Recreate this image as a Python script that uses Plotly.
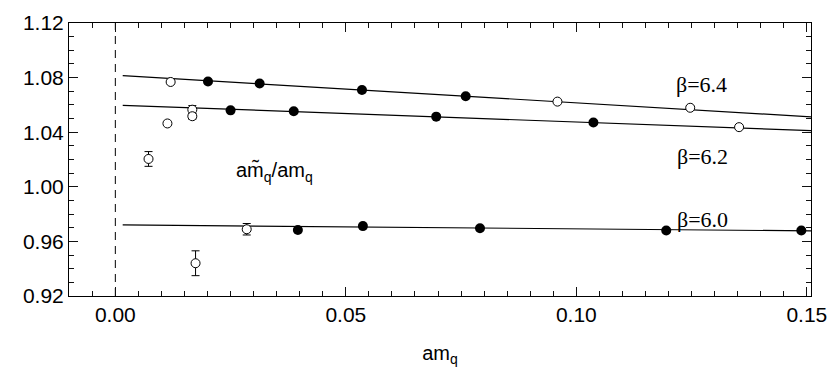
import plotly.graph_objects as go

# Quark-mass ratio data, grouped by marker style
filled_x = [0.0201, 0.0313, 0.0535, 0.0760,
            0.0250, 0.0387, 0.0696, 0.1037,
            0.0396, 0.0537, 0.0791, 0.1195, 0.1488]
filled_y = [1.0771, 1.0757, 1.0709, 1.0663,
            1.0560, 1.0553, 1.0514, 1.0471,
            0.9684, 0.9712, 0.9696, 0.9680, 0.9680]
filled_err = [0.0008, 0.0008, 0.0008, 0.0008,
              0.0008, 0.0008, 0.0008, 0.0008,
              0.0012, 0.0008, 0.0008, 0.0008, 0.0008]

open_x = [0.0120, 0.0959, 0.1247,
          0.0113, 0.0167, 0.0167, 0.0072, 0.1353,
          0.0174, 0.0285]
open_y = [1.0768, 1.0624, 1.0579,
          1.0464, 1.0565, 1.0517, 1.0204, 1.0437,
          0.9440, 0.9689]
open_err = [0.0010, 0.0008, 0.0008,
            0.0015, 0.0030, 0.0022, 0.0054, 0.0008,
            0.0091, 0.0042]

# Linear fits at each beta, evaluated at the ends of the fit range
fit_x = [0.0016, 0.151]
fit_b64 = [1.0814, 1.0512]
fit_b62 = [1.0597, 1.0411]
fit_b60 = [0.9721, 0.9677]

beta_labels = ["β=6.4", "β=6.2", "β=6.0"]
label_x = [0.1272, 0.1273, 0.1273]
label_y = [1.0752, 1.0222, 0.9760]

x_range = [-0.01005, 0.1509]
y_range = [0.92, 1.12]

fig = go.Figure()

# dashed vertical line at am_q = 0
fig.add_trace(go.Scatter(x=[0, 0], y=y_range, mode="lines",
                         line=dict(color="black", width=1, dash="8px,6px"),
                         showlegend=False, hoverinfo="skip"))

for fy in (fit_b64, fit_b62, fit_b60):
    fig.add_trace(go.Scatter(x=fit_x, y=fy, mode="lines",
                             line=dict(color="black", width=1.2),
                             showlegend=False, hoverinfo="skip"))

fig.add_trace(go.Scatter(
    x=open_x, y=open_y, mode="markers",
    error_y=dict(type="data", array=open_err, color="black", thickness=1, width=4),
    marker=dict(symbol="circle", size=9, color="white",
                line=dict(color="black", width=1)),
    showlegend=False))

fig.add_trace(go.Scatter(
    x=filled_x, y=filled_y, mode="markers",
    error_y=dict(type="data", array=filled_err, color="black", thickness=1, width=4),
    marker=dict(symbol="circle", size=10, color="black",
                line=dict(color="black", width=0)),
    showlegend=False))

# empty trace that anchors the top/right tick axes
fig.add_trace(go.Scatter(x=[], y=[], xaxis="x2", yaxis="y2",
                         showlegend=False, hoverinfo="skip"))

for txt, lx, ly in zip(beta_labels, label_x, label_y):
    fig.add_annotation(x=lx, y=ly, text=txt, showarrow=False,
                       font=dict(family="Liberation Serif", size=22, color="black"))

fig.add_annotation(x=0.0345, y=1.0105, text="am\u0303<sub>q</sub>/am<sub>q</sub>",
                   showarrow=False,
                   font=dict(family="Liberation Sans, Arial", size=20, color="black"))

tick_font = dict(family="Liberation Sans, Arial", size=21, color="black")
tick_col = "#111111"
x_minor = dict(ticks="inside", dtick=0.005, ticklen=5, tickcolor=tick_col, tickwidth=1)
y_minor = dict(ticks="inside", dtick=0.01, ticklen=5, tickcolor=tick_col, tickwidth=1)

fig.update_layout(
    width=838, height=371,
    margin=dict(l=69, r=21, t=11, b=69),
    plot_bgcolor="white", paper_bgcolor="white",
    xaxis=dict(range=x_range, gridcolor="white", zerolinecolor="white",
               showline=True, linecolor="black", mirror=True,
               tickmode="linear", tick0=0, dtick=0.05, ticks="inside",
               ticklen=9, tickcolor=tick_col, tickwidth=1, minor=x_minor,
               tickformat=".2f", tickfont=tick_font,
               title=dict(text="am<sub>q</sub>", standoff=20,
                          font=dict(family="Liberation Sans, Arial", size=20,
                                    color="black"))),
    yaxis=dict(range=y_range, gridcolor="white", zerolinecolor="white",
               showline=True, linecolor="black", mirror=True,
               tickmode="linear", tick0=0.92, dtick=0.04, ticks="inside",
               ticklen=9, tickcolor=tick_col, tickwidth=1, minor=y_minor,
               tickformat=".2f", tickfont=tick_font),
    xaxis2=dict(range=x_range, overlaying="x", side="top", anchor="y2",
                gridcolor="white", zerolinecolor="white", showticklabels=False,
                showline=True, linecolor="black",
                tickmode="linear", tick0=0, dtick=0.05,
                ticks="inside", ticklen=9, tickcolor=tick_col, tickwidth=1,
                minor=x_minor),
    yaxis2=dict(range=y_range, overlaying="y", side="right", anchor="x2",
                gridcolor="white", zerolinecolor="white", showticklabels=False,
                showline=True, linecolor="black",
                tickmode="linear", tick0=0.92, dtick=0.04,
                ticks="inside", ticklen=9, tickcolor=tick_col, tickwidth=1,
                minor=y_minor),
)

fig.write_html("out.html")
